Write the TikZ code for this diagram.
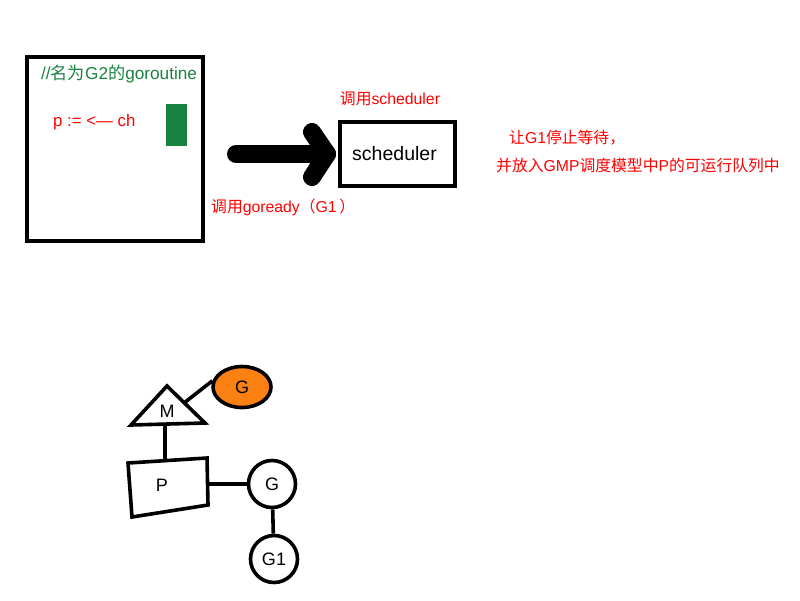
\documentclass[tikz,border=0pt]{standalone}
\usepackage{fontspec}
\setmainfont{Liberation Sans}
\newfontfamily\cjk{Noto Sans CJK SC}
\usetikzlibrary{positioning,shapes.geometric}
\definecolor{codegreen}{RGB}{26,130,64}
\definecolor{gorange}{RGB}{250,128,18}

\begin{document}
\begin{tikzpicture}[
    x=1pt, y=-1pt,
    node distance=55pt,
    box/.style={draw, line width=4pt, inner sep=0pt},
    redtext/.style={text=red, inner sep=0pt, font=\fontsize{15.8}{18}\selectfont},
    gmpline/.style={line width=3.6pt},
    label18/.style={inner sep=0pt, font=\fontsize{18}{21}\selectfont},
    gnode/.style={circle, draw, line width=3.6pt, minimum size=47pt, label18},
    fatarrow/.style={line width=18pt, line cap=round, line join=round},
    ]
    \useasboundingbox (0,0) rectangle (800,600);

    % G2 and its code
    \node[box, minimum width=176pt, minimum height=184pt] (g2) at (115,149) {};
    \node[anchor=west, inner sep=0pt, text=codegreen, font=\fontsize{17.2}{20}\selectfont] (comment) at (41,74) {//{\cjk 名为}G2{\cjk 的}goroutine};
    \node[anchor=west, inner sep=0pt, text=red, font=\fontsize{16.8}{19}\selectfont] (recv) at (53,122) {p := <— ch};
    \node[fill=codegreen, minimum width=21pt, minimum height=42pt, inner sep=0pt] (block) at (176,125) {};

    % scheduler
    \node[box, minimum width=115pt, minimum height=64pt, font=\fontsize{19.5}{22}\selectfont] (sched) at (397,154) {\hspace{-5pt}scheduler};
    \node[redtext, above of=sched, xshift=-7pt] (callsched) {{\cjk 调用}scheduler};
    \node[redtext, anchor=west] (callready) at (211,207) {{\cjk 调用}goready{\cjk （}G1\,{\cjk ）}};
    \node[redtext, anchor=west] (wake) at (509,138) {{\cjk 让}G1{\cjk 停止等待，}};
    \node[redtext, anchor=west] (enqueue) at (496,166) {{\cjk 并放入}GMP{\cjk 调度模型中}P{\cjk 的可运行队列中}};

    % big arrow
    \coordinate (tail) at (236,154);
    \coordinate (tip) at (327,154);
    \draw[fatarrow] (tail) -- (tip);
    \draw[fatarrow] ([shift={(-15,-22)}]tip) -- (tip) -- ([shift={(-15,23)}]tip);

    % GMP model
    \node[ellipse, draw, line width=3.6pt, fill=gorange, minimum width=58pt, minimum height=41pt, label18] (gm) at (242,387) {G};
    \node[label18] (m) at (167,411) {M};
    \draw[gmpline] (131,425) -- (167,386) -- (205,423) -- cycle;
    \node[label18] (p) at (162,485) {P};
    \draw[gmpline] (128,463) -- (207,458) -- (208,505) -- (132,517) -- cycle;
    \node[gnode] (g) at (272,484) {G};
    \node[gnode, below of=g, node distance=75pt, xshift=2pt] (g1) {G1};

    \coordinate (mside) at (184,403);
    \coordinate (mbase) at (165,425);
    \coordinate (ptop) at (165,460);
    \coordinate (pside) at (207,484);
    \draw[gmpline] (mside) -- (gm.168);
    \draw[gmpline] (mbase) -- (ptop);
    \draw[gmpline] (pside) -- (g);
    \draw[gmpline] (g) -- (g1);

\end{tikzpicture}
\end{document}
